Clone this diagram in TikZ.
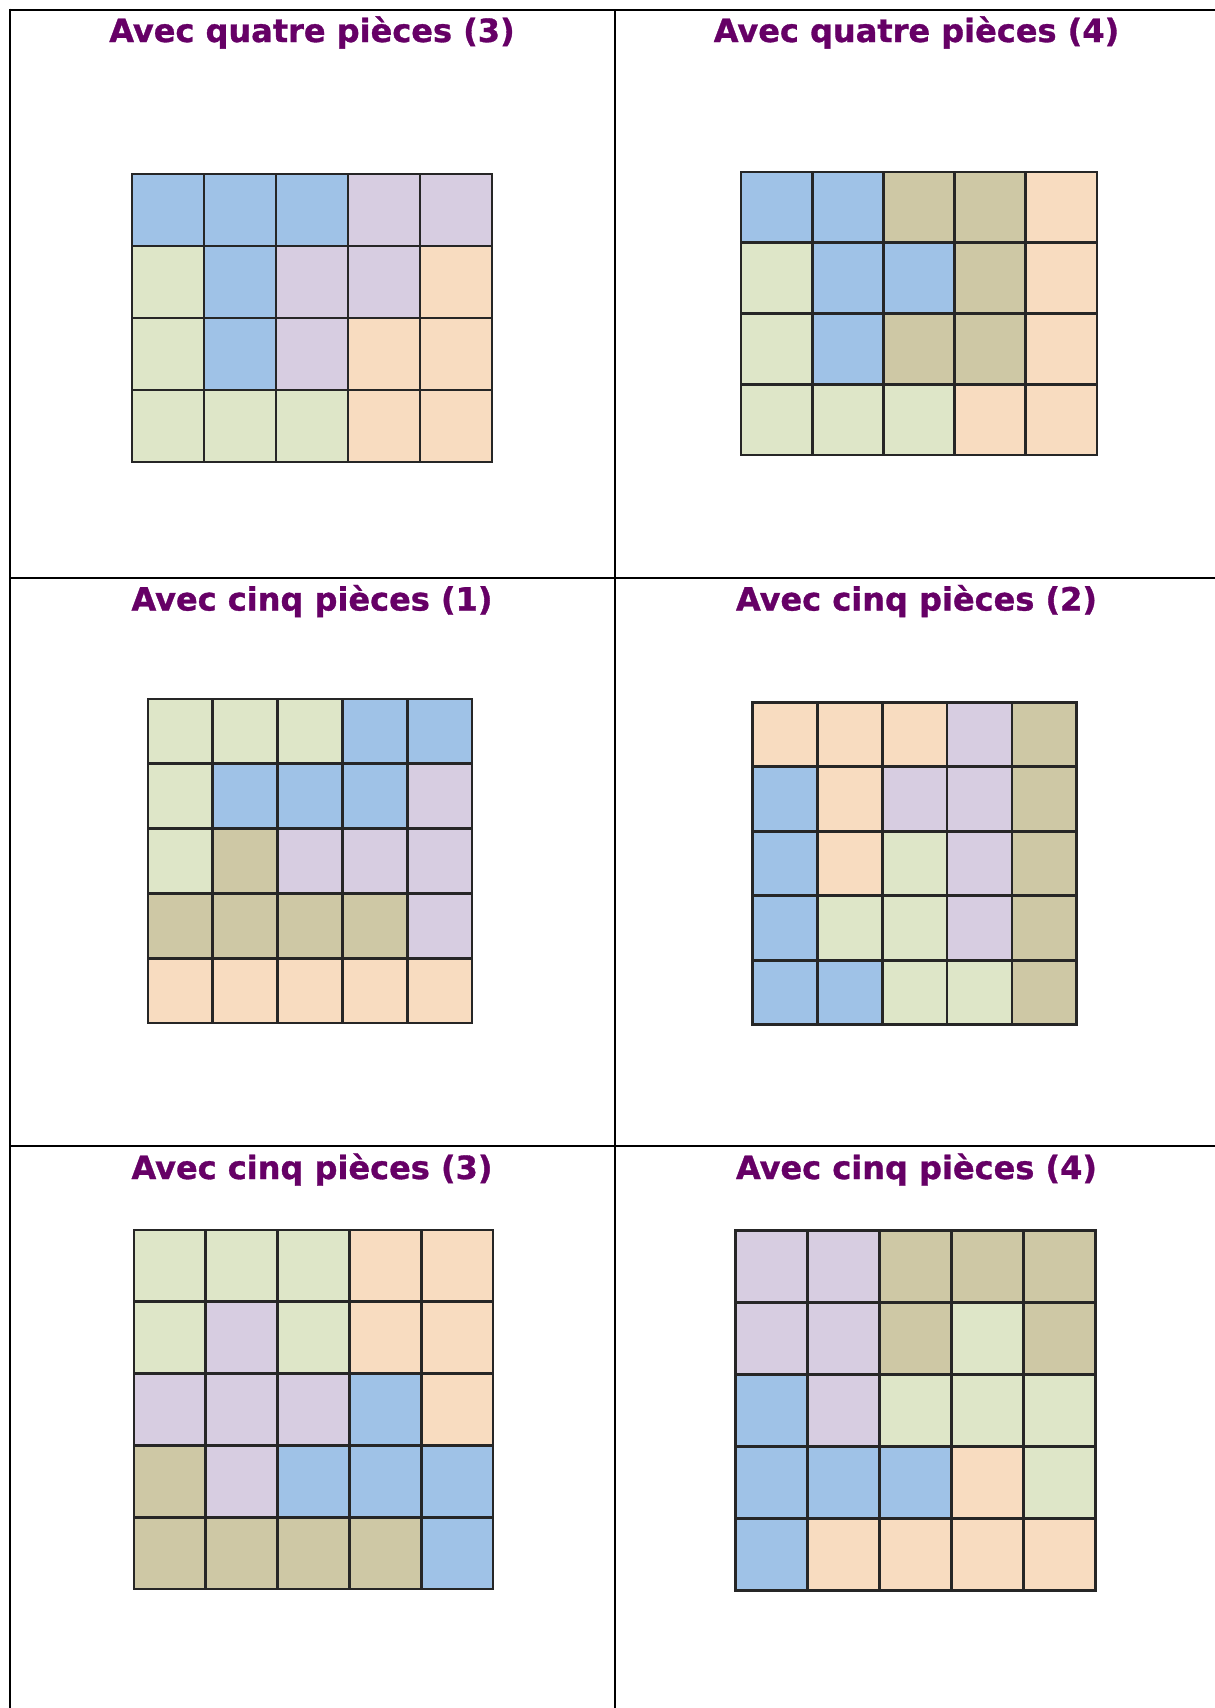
\documentclass[tikz,border=0pt]{standalone}
\usepackage{fontspec}
\newfontfamily\titlefont{DejaVu Sans}[BoldFeatures={FakeBold=1}]
\definecolor{colB}{HTML}{9FC2E7}
\definecolor{colP}{HTML}{D7CDE1}
\definecolor{colG}{HTML}{DEE6C8}
\definecolor{colT}{HTML}{CEC8A5}
\definecolor{colO}{HTML}{F8DCC0}
\definecolor{titlepurple}{HTML}{660066}
\newcommand\puzzlegrid[6]{%
  \foreach \rowlist [count=\rr from 0] in {#6} {
    \foreach \cc [count=\kk from 0] in \rowlist {
      \fill[fill=col\cc] ({#1+\kk*#3},{#2+\rr*#4}) rectangle ++(#3,#4);
    }
  }
  \foreach \kk in {1,...,4} \draw[gridline] ({#1+\kk*#3},#2) -- ++(0,{#5*#4});
  \pgfmathtruncatemacro\nmrows{#5-1}
  \foreach \rr in {1,...,\nmrows} \draw[gridline] (#1,{#2+\rr*#4}) -- ++({5*#3},0);
  \draw[gridline] (#1,#2) rectangle ++({5*#3},{#5*#4});
}
\begin{document}
\begin{tikzpicture}[x=1pt,y=-1pt,
  gridline/.style={line width=2.7pt, draw=black!85, line join=miter},
  frameline/.style={line width=2pt, draw=black},
  title/.style={font={\titlefont\bfseries\fontsize{32}{36}\selectfont}, text=titlepurple, inner sep=0pt, anchor=base}]
\fill[white] (0,0) rectangle (1215,1708);
\useasboundingbox (0,0) rectangle (1215,1708);
% frame
\draw[frameline] (9,9.5) -- (1215,9.5);
\draw[frameline] (10,8.5) -- (10,1708);
\draw[frameline] (614.7,9.5) -- (614.7,1708);
\draw[frameline] (10,577.7) -- (1215,577.7);
\draw[frameline] (10,1146) -- (1215,1146);
% titles
\node[title] (t1) at (312,42) {Avec quatre pièces (3)};
\node[title] (t2) at (916.5,42) {Avec quatre pièces (4)};
\node[title] (t3) at (312,610.5) {Avec cinq pièces (1)};
\node[title] (t4) at (916.5,610.5) {Avec cinq pièces (2)};
\node[title] (t5) at (312,1179) {Avec cinq pièces (3)};
\node[title] (t6) at (916.5,1179) {Avec cinq pièces (4)};
% grids
\puzzlegrid{132}{174}{72}{72}{4}{{B,B,B,P,P},{G,B,P,P,O},{G,B,P,O,O},{G,G,G,O,O}}
\puzzlegrid{741}{172}{71.2}{70.75}{4}{{B,B,T,T,O},{G,B,B,T,O},{G,B,T,T,O},{G,G,G,O,O}}
\puzzlegrid{148}{699}{64.8}{64.8}{5}{{G,G,G,B,B},{G,B,B,B,P},{G,T,P,P,P},{T,T,T,T,P},{O,O,O,O,O}}
\puzzlegrid{752.7}{702.3}{64.8}{64.5}{5}{{O,O,O,P,T},{B,O,P,P,T},{B,O,G,P,T},{B,G,G,P,T},{B,B,G,G,T}}
\puzzlegrid{134}{1230}{71.8}{71.8}{5}{{G,G,G,O,O},{G,P,G,O,O},{P,P,P,B,O},{T,P,B,B,B},{T,T,T,T,B}}
\puzzlegrid{735.7}{1230.7}{72}{71.9}{5}{{P,P,T,T,T},{P,P,T,G,T},{B,P,G,G,G},{B,B,B,O,G},{B,O,O,O,O}}
\end{tikzpicture}
\end{document}
